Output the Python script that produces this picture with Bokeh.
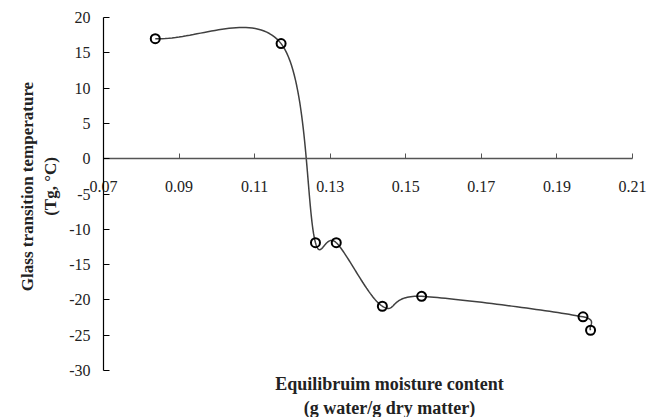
import numpy as np
from bokeh.plotting import figure
from bokeh.models import LinearAxis, Label, Range1d, FixedTicker, CustomJSTickFormatter
from bokeh.embed import file_html
from bokeh.resources import INLINE

# Data
moisture = [0.0837, 0.1170, 0.1261, 0.1316, 0.1438, 0.1542, 0.1969, 0.1989]
tg = [17.0, 16.3, -11.9, -11.9, -20.9, -19.5, -22.4, -24.3]
x_ticks = [0.07, 0.09, 0.11, 0.13, 0.15, 0.17, 0.19, 0.21]
y_ticks = [20, 15, 10, 5, 0, -5, -10, -15, -20, -25, -30]

x_title = ["Equilibruim moisture content", "(g water/g dry matter)"]
y_title = ["Glass transition temperature", "(Tg, \u00b0C)"]

W, H = 660, 417
X0, X1, Y0, Y1 = 0.07, 0.21, -30, 20
L, R, T, B = 103, 632, 17, 370          # pixel box of the axes
kx = (X1 - X0) / (R - L)
ky = (Y1 - Y0) / (B - T)


def smooth(xs, ys, n=40):
    """Excel-like smoothed line: Bezier segments with capped tangents."""
    P = np.column_stack([(np.asarray(xs) - X0) / kx, (np.asarray(ys) - Y0) / ky])
    k = len(P)
    out = []
    for i in range(k - 1):
        p1, p2 = P[i], P[i + 1]
        p0 = P[i - 1] if i > 0 else p1
        p3 = P[i + 2] if i + 2 < k else p2
        d12 = np.linalg.norm(p2 - p1)
        o1 = (p2 - p0) * (1 / 3 if i == 0 else 1 / 6)
        o2 = (p3 - p1) * (1 / 3 if i + 2 >= k else 1 / 6)
        for o in (o1, o2):
            ln = np.linalg.norm(o)
            if ln > d12:
                o *= d12 / ln
        c1 = p1 + o1
        c2 = p2 - o2
        t = np.linspace(0, 1, n)[:, None]
        seg = (1 - t) ** 3 * p1 + 3 * (1 - t) ** 2 * t * c1 + 3 * (1 - t) * t ** 2 * c2 + t ** 3 * p2
        out.append(seg if i == 0 else seg[1:])
    c = np.vstack(out)
    return c[:, 0] * kx + X0, c[:, 1] * ky + Y0


def dx(px):
    return X0 + (px - L) * kx


def dy(py):
    return Y1 - (py - T) * ky


p = figure(width=W, height=H,
           x_range=Range1d(dx(0), dx(W)), y_range=Range1d(dy(H), dy(0)),
           output_backend="svg", toolbar_location=None,
           x_axis_location=None, y_axis_location=None,
           min_border=0)
p.outline_line_color = None
p.grid.visible = False
p.background_fill_color = "white"
p.border_fill_color = "white"

FONT = "Liberation Serif"

yaxis = LinearAxis(ticker=FixedTicker(ticks=y_ticks), fixed_location=X0,
                   bounds=(Y0, Y1),
                   formatter=CustomJSTickFormatter(code="return tick.toFixed(0);"),
                   major_tick_in=6, major_tick_out=0,
                   minor_tick_line_color=None,
                   axis_line_color="black", axis_line_width=1.2,
                   major_tick_line_color="black",
                   major_label_text_font=FONT,
                   major_label_text_font_size="16px",
                   major_label_text_color="#222222",
                   major_label_standoff=13)
p.add_layout(yaxis, "left")

xaxis = LinearAxis(ticker=FixedTicker(ticks=x_ticks), fixed_location=0,
                   bounds=(X0, X1),
                   formatter=CustomJSTickFormatter(code="return tick.toFixed(2);"),
                   major_tick_in=5, major_tick_out=0,
                   minor_tick_line_color=None,
                   axis_line_color="#555555", axis_line_width=1.3,
                   major_tick_line_color="#555555",
                   major_label_text_font=FONT,
                   major_label_text_font_size="16px",
                   major_label_text_color="#222222",
                   major_label_standoff=22)
p.add_layout(xaxis, "below")

sx, sy = smooth(moisture, tg)
p.line(sx, sy, line_color="#404040", line_width=1.5)
p.scatter(moisture, tg, marker="circle", size=9, fill_color=None,
          line_color="black", line_width=2)

for text, px, py, ang, fs in [
    (y_title[0], 27, 186, np.pi / 2, "17px"),
    (y_title[1], 50, 186, np.pi / 2, "17px"),
    (x_title[0], 389, 383, 0, "18px"),
    (x_title[1], 389, 407, 0, "18px"),
]:
    p.add_layout(Label(x=dx(px), y=dy(py), text=text, angle=ang,
                       text_align="center", text_baseline="middle",
                       text_font=FONT, text_font_style="bold",
                       text_font_size=fs, text_color="#222222"))

open("out.html", "w").write(file_html(p, INLINE))
